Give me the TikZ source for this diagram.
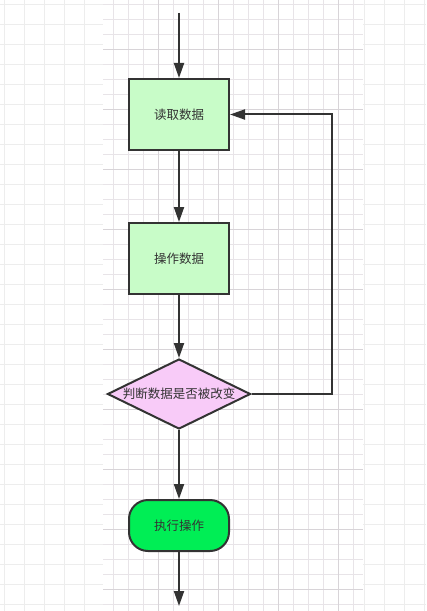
\documentclass[tikz,border=0pt]{standalone}
\usepackage{fontspec}
\setmainfont{Noto Sans CJK SC}
\usetikzlibrary{arrows.meta,shapes.geometric}
\definecolor{lineC}{HTML}{333333}
\definecolor{boxG}{HTML}{C8FCC8}
\definecolor{dia}{HTML}{F8CBF8}
\definecolor{term}{HTML}{00EE55}
\definecolor{gOut}{HTML}{EDEDED}
\definecolor{gIn}{HTML}{E8E4E8}
\definecolor{gInD}{HTML}{D8D4D8}
\tikzset{
  flow/.style={draw=lineC,line width=2bp,-{Triangle[length=15bp,width=10bp]}},
  proc/.style={draw=lineC,line width=2bp,fill=boxG,minimum width=100bp,minimum height=71bp,inner sep=0pt,text=lineC,font=\fontsize{12.5bp}{14bp}\selectfont},
  decision/.style={draw=lineC,line width=2bp,fill=dia,diamond,aspect=2.05,minimum width=143bp,minimum height=70bp,inner sep=0pt,text=lineC,font=\fontsize{12.5bp}{14bp}\selectfont},
  termbox/.style={draw=lineC,line width=2bp,fill=term,rounded corners=19bp,minimum width=100bp,minimum height=51bp,inner sep=0pt,text=lineC,font=\fontsize{12.5bp}{14bp}\selectfont}
}
\begin{document}
\begin{tikzpicture}[x=1bp,y=-1bp]
\useasboundingbox (0,0) rectangle (426,611);
\fill[white] (0,0) rectangle (426,611);
% outer grid
\foreach \i in {4,24,...,424} \draw[gOut,line width=0.8bp] (\i,0) -- (\i,611);
\foreach \j in {4,24,...,604} \draw[gOut,line width=0.8bp] (0,\j) -- (426,\j);
% inner region
\fill[white] (103,0) rectangle (363,611);
\foreach \i in {113,128,...,353} \draw[gIn,line width=0.8bp] (\i,0) -- (\i,611);
\foreach \j in {4,19,...,604} \draw[gIn,line width=0.8bp] (103,\j) -- (363,\j);
\foreach \i in {158,218,278,338} \draw[gInD,line width=0.9bp] (\i,0) -- (\i,611);
\foreach \j in {49,109,...,589} \draw[gInD,line width=0.9bp] (103,\j) -- (363,\j);
% nodes
\coordinate (start) at (179,13);
\node[proc] (read) at (179,114.5) {读取数据};
\node[proc] (op) at (179,258.5) {操作数据};
\node[decision] (judge) at (179,394) {判断数据是否被改变};
\node[termbox] (exec) at (179,525.5) {执行操作};
\coordinate (end) at (179,606);
\coordinate (loop) at (332,394);
% connectors
\draw[flow] (start) -- (read.north);
\draw[flow] (read.south) -- (op.north);
\draw[flow] (op.south) -- (judge.north);
\draw[flow] (judge.south) -- (exec.north);
\draw[flow] (exec.south) -- (end);
\draw[flow] (judge.east) -- (loop) |- (read.east);
\end{tikzpicture}
\end{document}
